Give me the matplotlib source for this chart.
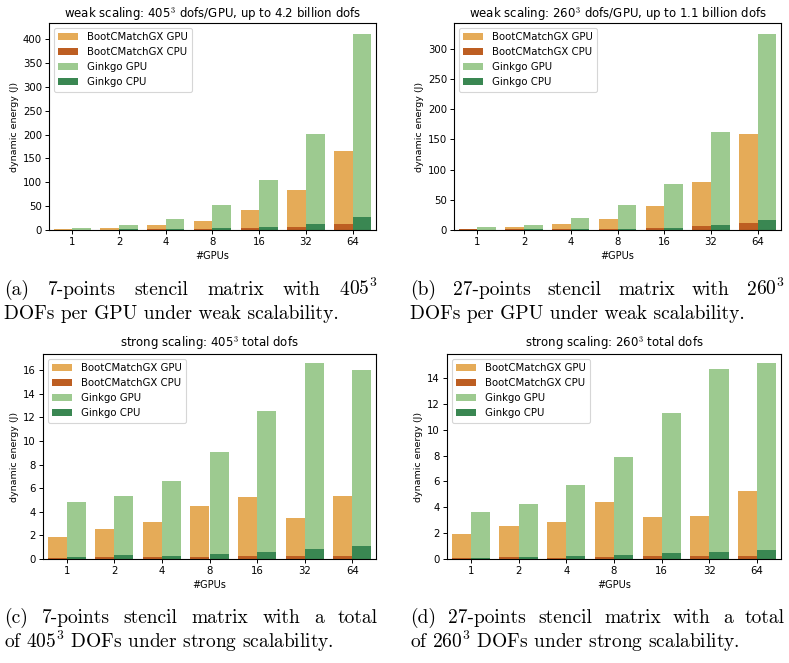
import matplotlib
matplotlib.use("Agg")
import matplotlib.pyplot as plt
import numpy as np

plt.rcParams['mathtext.fontset'] = 'cm'
plt.rcParams['font.family'] = 'DejaVu Sans'

gpus = ["1", "2", "4", "8", "16", "32", "64"]

# (a) weak scaling 405^3
a_bcm_gpu = [2.0, 4.2, 10.5, 19.6, 42.0, 84.0, 165.7]
a_bcm_cpu = [1.0, 1.0, 1.5, 2.0, 4.2, 6.3, 12.6]
a_gko_gpu = [4.2, 10.5, 23.0, 52.0, 105.0, 201.0, 411.0]
a_gko_cpu = [1.0, 1.5, 2.0, 4.2, 6.3, 12.6, 27.0]

# (b) weak scaling 260^3
b_bcm_gpu = [1.7, 5.0, 9.9, 18.2, 39.7, 79.4, 158.9]
b_bcm_cpu = [1.0, 1.0, 1.0, 1.5, 3.3, 6.6, 11.6]
b_gko_gpu = [5.0, 8.3, 19.9, 41.4, 76.0, 162.0, 324.0]
b_gko_cpu = [0.8, 1.5, 1.5, 1.7, 3.3, 8.3, 16.5]

# (c) strong scaling 405^3
c_bcm_gpu = [1.89, 2.57, 3.16, 4.52, 5.28, 3.50, 5.37]
c_bcm_cpu = [0.11, 0.20, 0.20, 0.20, 0.28, 0.28, 0.28]
c_gko_gpu = [4.86, 5.37, 6.64, 9.10, 12.57, 16.64, 16.05]
c_gko_cpu = [0.20, 0.37, 0.28, 0.45, 0.62, 0.88, 1.13]

# (d) strong scaling 260^3
d_bcm_gpu = [1.96, 2.58, 2.89, 4.43, 3.27, 3.35, 5.28]
d_bcm_cpu = [0.10, 0.18, 0.10, 0.18, 0.26, 0.26, 0.26]
d_gko_gpu = [3.66, 4.28, 5.75, 7.91, 11.31, 14.72, 15.18]
d_gko_cpu = [0.10, 0.18, 0.26, 0.34, 0.49, 0.57, 0.72]

titles = [
    r"weak scaling: 405$^3$ dofs/GPU, up to 4.2 billion dofs",
    r"weak scaling: 260$^3$ dofs/GPU, up to 1.1 billion dofs",
    r"strong scaling: 405$^3$ total dofs",
    r"strong scaling: 260$^3$ total dofs",
]
caption_line1 = [
    ["(a)", "7-points", "stencil", "matrix", "with", "4", "05$^3$"],
    ["(b)", "27-points", "stencil", "matrix", "with", "2", "60$^3$"],
    ["(c)", "7-points", "stencil", "matrix", "with", "a", "total"],
    ["(d)", "27-points", "stencil", "matrix", "with", "a", "total"],
]
caption_line2 = [
    "DOFs per GPU under weak scalability.",
    "DOFs per GPU under weak scalability.",
    "of $405^3$ DOFs under strong scalability.",
    "of $260^3$ DOFs under strong scalability.",
]
labels = ["BootCMatchGX GPU", "BootCMatchGX CPU", "Ginkgo GPU", "Ginkgo CPU"]
colors = ["#E5AB58", "#BD5E22", "#9DCA90", "#3A8752"]

data = [
    (a_bcm_gpu, a_bcm_cpu, a_gko_gpu, a_gko_cpu),
    (b_bcm_gpu, b_bcm_cpu, b_gko_gpu, b_gko_cpu),
    (c_bcm_gpu, c_bcm_cpu, c_gko_gpu, c_gko_cpu),
    (d_bcm_gpu, d_bcm_cpu, d_gko_gpu, d_gko_cpu),
]

W, H = 789, 663
fig = plt.figure(figsize=(W / 100, H / 100), dpi=100)

# axes rectangles in pixels: left, top, right, bottom
rects = [(49, 23, 376, 230), (454, 23, 781, 230), (43, 354, 376, 559), (447, 354, 781, 559)]
yticks_list = [np.arange(0, 401, 50), np.arange(0, 301, 50), np.arange(0, 17, 2), np.arange(0, 15, 2)]
ylims = [(0, 434), (0, 342.5), (0, 17.38), (0, 15.86)]
title_pads = [2.5, 2.5, 5.0, 5.0]
# caption: x-left, x-right (justified first line), baseline of line 1, baseline of line 2
cap_geom = [(4, 378, 295, 319), (410, 785, 295, 319), (4, 378, 623, 648), (410, 785, 623, 648)]
CAP_FS = 14

x = np.arange(len(gpus))
w = 0.4
line1_texts = []
for i, (l, t, r, b) in enumerate(rects):
    ax = fig.add_axes([l / W, 1 - b / H, (r - l) / W, (b - t) / H])
    bg, bc, gg, gc = data[i]
    ax.bar(x - w / 2, bg, width=w, color=colors[0], label=labels[0])
    ax.bar(x - w / 2, bc, width=w, color=colors[1], label=labels[1])
    ax.bar(x + w / 2, gg, width=w, color=colors[2], label=labels[2])
    ax.bar(x + w / 2, gc, width=w, color=colors[3], label=labels[3])
    ax.set_xlim(-0.5, len(gpus) - 0.5)
    ax.set_ylim(*ylims[i])
    ax.set_yticks(yticks_list[i])
    ax.set_xticks(x)
    ax.set_xticklabels(gpus)
    ax.tick_params(labelsize=7.3, length=3, width=0.7, pad=2)
    for s in ax.spines.values():
        s.set_linewidth(0.8)
    ax.set_ylabel("dynamic energy (J)", fontsize=6.8, labelpad=3)
    ax.set_xlabel("#GPUs", fontsize=7.0, labelpad=3)
    ax.set_title(titles[i], fontsize=8.5, pad=title_pads[i])
    leg = ax.legend(loc="upper left", fontsize=7.3, handlelength=2.0, handleheight=0.7,
                    borderpad=0.45, labelspacing=0.5, handletextpad=0.8, framealpha=0.8,
                    borderaxespad=0.45)
    leg.get_frame().set_linewidth(0.8)

    x0, x1, y1, y2 = cap_geom[i]
    words = []
    for wd in caption_line1[i]:
        words.append(fig.text(x0 / W, 1 - y1 / H, wd, family="cmr10", fontsize=CAP_FS,
                              va="baseline", ha="left"))
    line1_texts.append((words, x0, x1))
    fig.text(x0 / W, 1 - y2 / H, caption_line2[i], family="cmr10", fontsize=CAP_FS,
             va="baseline", ha="left")

# justify the first caption line of each panel between x0 and x1
# (a lone digit followed by a "NN$^3$" chunk is glued together without a gap)
renderer = fig.canvas.get_renderer()
for words, x0, x1 in line1_texts:
    widths = [t.get_window_extent(renderer).width for t in words]
    glue = [t.get_text().endswith("$^3$") for t in words]
    n_gaps = sum(1 for k in range(1, len(words)) if not glue[k])
    gap = (x1 - x0 - sum(widths)) / n_gaps
    pos = x0
    for k, (t, wd) in enumerate(zip(words, widths)):
        if k > 0 and not glue[k]:
            pos += gap
        t.set_x(pos / W)
        pos += wd

fig.savefig("out.png", dpi=100)
